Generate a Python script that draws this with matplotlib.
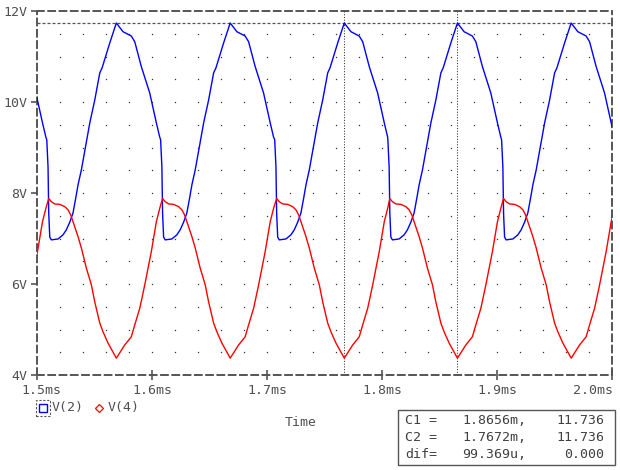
import numpy as np
import matplotlib
matplotlib.use("Agg")
import matplotlib.pyplot as plt
import matplotlib.transforms as mtransforms
from matplotlib.patches import Rectangle

# ---- data ----
# one period of V(2) (blue): time offset from its peak [ms], value [V]
v2_dt = [-0.0605, -0.0594, -0.0588, -0.0579, -0.0565, -0.0507, -0.0464, -0.0435,
         -0.0405, -0.0377, -0.0353, -0.0333, -0.0304, -0.0231, -0.0188, -0.0144,
         -0.0124, -0.0057, 0.0, 0.0058, 0.0130, 0.0160, 0.0217, 0.0290, 0.0348, 0.0377]
v2_val = [9.17, 8.57, 7.56, 7.03, 6.97, 6.99, 7.08, 7.19,
          7.36, 7.56, 7.89, 8.18, 8.51, 9.54, 10.04, 10.64,
          10.75, 11.30, 11.736, 11.545, 11.45, 11.325, 10.78, 10.20, 9.54, 9.23]
# one period of V(4) (red): time offset from the V(2) peak [ms], value [V]
v4_dt = [-0.0588, -0.0566, -0.0536, -0.0492, -0.0449, -0.0420, -0.0397, -0.0377,
         -0.0362, -0.0333, -0.0304, -0.0261, -0.0217, -0.0188, -0.0144, -0.0116,
         -0.0072, 0.0, 0.0073, 0.0130, 0.0160, 0.0204, 0.0247, 0.0304, 0.0348, 0.0378]
v4_val = [7.88, 7.81, 7.76, 7.75, 7.70, 7.63, 7.52, 7.37,
          7.26, 7.04, 6.79, 6.35, 5.98, 5.61, 5.14, 4.95,
          4.70, 4.37, 4.66, 4.84, 5.10, 5.47, 5.98, 6.71, 7.37, 7.67]
# times of the V(2) peaks [ms]
peak_times = [1.4700, 1.5690, 1.6680, 1.7672, 1.8656, 1.9645, 2.0634]

x_ticks = [1.5, 1.6, 1.7, 1.8, 1.9, 2.0]
x_tick_labels = ["1.5ms", "1.6ms", "1.7ms", "1.8ms", "1.9ms", "2.0ms"]
y_ticks = [4, 6, 8, 10, 12]
y_tick_labels = ["4V", "6V", "8V", "10V", "12V"]

cursor_c1 = 1.8656
cursor_c2 = 1.7672
cursor_level = 11.736
cursor_rows = [("C1 =", "1.8656m,", "11.736"),
               ("C2 =", "1.7672m,", "11.736"),
               ("dif=", "99.369u,", "0.000")]

legend_names = ["V(2)", "V(4)"]

# ---- build the traces ----
def build(dts, vals):
    t, v = [], []
    for p in peak_times:
        t.extend([p + d for d in dts])
        v.extend(vals)
    return np.array(t), np.array(v)

t2, y2 = build(v2_dt, v2_val)
t4, y4 = build(v4_dt, v4_val)

W, H = 620, 470
fig = plt.figure(figsize=(W / 100, H / 100), dpi=100)
fig.patch.set_facecolor("white")

def fx(x):
    return x / W

def fy(y):
    return 1 - y / H

L, R, T, B = 37, 612, 11, 375
ax = fig.add_axes([fx(L), fy(B), (R - L) / W, (B - T) / H])
ax.set_xlim(1.5, 2.0)
ax.set_ylim(4, 12)

gray = "#555555"
tcol = "#505050"
font = "DejaVu Sans Mono"
fs = 9.5

# dotted grid
gx = np.arange(1.52, 1.99, 0.02)
gy = np.arange(4.5, 11.6, 0.5)
GX, GY = np.meshgrid(gx, gy)
ax.plot(GX.ravel(), GY.ravel(), linestyle="none", marker="s", markersize=0.9,
        markeredgewidth=0, color="#333333", zorder=1)

# cursors
ax.axhline(cursor_level, color=gray, lw=0.9, ls=(0, (2.4, 1.6)), zorder=2)
for c in (cursor_c1, cursor_c2):
    ax.axvline(c, color="#333333", lw=0.75, ls=(0, (1.0, 1.6)), zorder=2)

ax.plot(t2, y2, color="#0000ff", lw=1.0, zorder=3)
ax.plot(t4, y4, color="#ff0000", lw=1.0, zorder=3)

for s in ax.spines.values():
    s.set_color(gray)
    s.set_linewidth(1.4)
    s.set_linestyle((0, (3.5, 2.3)))

ax.set_xticks(x_ticks)
ax.set_xticklabels(x_tick_labels, family=font, fontsize=fs, color=tcol)
ax.set_yticks(y_ticks)
ax.set_yticklabels(y_tick_labels, family=font, fontsize=fs, color=tcol)
ax.tick_params(axis="x", direction="inout", length=7, width=1.2, color=gray, pad=3)
ax.tick_params(axis="y", direction="out", length=4, width=1.2, color=gray, pad=3)

xl = ax.get_xticklabels()
xl[-1].set_ha("right")
xl[-1].set_transform(xl[-1].get_transform() +
                     mtransforms.ScaledTranslation(1 / 100, 0, fig.dpi_scale_trans))
xl[0].set_transform(xl[0].get_transform() +
                    mtransforms.ScaledTranslation(4 / 100, 0, fig.dpi_scale_trans))

# legend
fig.patches.append(Rectangle((fx(36), fy(416)), 14 / W, 16 / H, transform=fig.transFigure,
                             fill=False, edgecolor=gray, lw=0.8, ls=(0, (2, 1.5))))
fig.lines.append(plt.Line2D([fx(43)], [fy(408)], transform=fig.transFigure, marker="s",
                            markersize=5.5, markerfacecolor="none", markeredgecolor="#0000ff",
                            markeredgewidth=1.0, linestyle="none"))
fig.text(fx(52), fy(408), legend_names[0], family=font, fontsize=fs, color=tcol,
         ha="left", va="center")
fig.lines.append(plt.Line2D([fx(98.5)], [fy(408)], transform=fig.transFigure, marker="D",
                            markersize=4, markerfacecolor="none", markeredgecolor="#ff0000",
                            markeredgewidth=0.9, linestyle="none"))
fig.text(fx(108), fy(408), legend_names[1], family=font, fontsize=fs, color=tcol,
         ha="left", va="center")

fig.text(fx(301), fy(423), "Time", family=font, fontsize=fs, color=tcol,
         ha="center", va="center")

# cursor box
fig.patches.append(Rectangle((fx(398), fy(465)), 217 / W, 55 / H, transform=fig.transFigure,
                             fill=False, edgecolor=gray, lw=1.0))
for i, (a, b, c) in enumerate(cursor_rows):
    yy = fy(421 + 16.5 * i)
    fig.text(fx(405), yy, a, family=font, fontsize=fs, color="#404040", ha="left", va="center")
    fig.text(fx(462), yy, b, family=font, fontsize=fs, color="#404040", ha="left", va="center")
    fig.text(fx(604), yy, c, family=font, fontsize=fs, color="#404040", ha="right", va="center")

fig.savefig("out.png", dpi=100)
